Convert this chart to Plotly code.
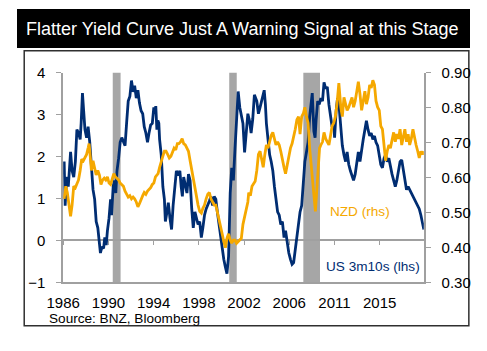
import plotly.graph_objects as go

# The usable page area is 471x335 (a larger figure gets shrunk); the chart is
# laid out in the reference's pixel coordinates inside that area.
W, H = 471, 335

# ---------------- data ----------------
us_years = [1986.24, 1986.33, 1986.44, 1986.53, 1986.62, 1986.83, 1986.97, 1987.12, 1987.27, 1987.41,
            1987.56, 1987.71, 1987.80, 1987.92, 1988.03, 1988.15, 1988.30, 1988.44, 1988.59, 1988.74,
            1988.89, 1989.04, 1989.18, 1989.33, 1989.48, 1989.57, 1989.71, 1989.86, 1989.97, 1990.10,
            1990.21, 1990.36, 1990.50, 1990.59, 1990.74, 1990.85, 1990.98, 1991.09, 1991.24, 1991.38,
            1991.53, 1991.68, 1991.83, 1991.97, 1992.12, 1992.27, 1992.42, 1992.57, 1992.71, 1992.86,
            1993.01, 1993.15, 1993.30, 1993.45, 1993.59, 1993.74, 1993.89, 1994.03, 1994.18, 1994.33,
            1994.47, 1994.56, 1994.65, 1994.75, 1994.84, 1994.93, 1995.00, 1995.15, 1995.30, 1995.44,
            1995.53, 1995.68, 1995.80, 1995.95, 1996.10, 1996.24, 1996.39, 1996.54, 1996.68, 1996.86,
            1996.98, 1997.09, 1997.21, 1997.36, 1997.51, 1997.65, 1997.80, 1997.95, 1998.09, 1998.24,
            1998.39, 1998.53, 1998.68, 1998.83, 1998.97, 1999.12, 1999.27, 1999.42, 1999.57, 1999.71,
            1999.86, 2000.01, 2000.16, 2000.30, 2000.45, 2000.60, 2000.74, 2000.89, 2001.04, 2001.18,
            2001.33, 2001.48, 2001.62, 2001.77, 2001.92, 2002.06, 2002.21, 2002.36, 2002.50, 2002.65,
            2002.80, 2002.95, 2003.10, 2003.25, 2003.40, 2003.55, 2003.70, 2003.92, 2004.07, 2004.22,
            2004.36, 2004.51, 2004.60, 2004.71, 2004.80, 2004.95, 2005.10, 2005.24, 2005.39, 2005.54,
            2005.68, 2005.83, 2005.98, 2006.12, 2006.27, 2006.42, 2006.56, 2006.71, 2006.86, 2007.01,
            2007.16, 2007.30, 2007.45, 2007.60, 2007.75, 2007.89, 2008.04, 2008.19, 2008.33, 2008.48,
            2008.63, 2008.77, 2008.92, 2009.01, 2009.16, 2009.27, 2009.36, 2009.51, 2009.65, 2009.80,
            2009.95, 2010.09, 2010.24, 2010.39, 2010.54, 2010.69, 2010.83, 2010.98, 2011.06, 2011.20,
            2011.33, 2011.48, 2011.63, 2011.77, 2011.92, 2012.07, 2012.21, 2012.36, 2012.51, 2012.66,
            2012.80, 2012.95, 2013.10, 2013.24, 2013.39, 2013.54, 2013.69, 2013.84, 2013.98, 2014.13,
            2014.28, 2014.42, 2014.57, 2014.72, 2014.86, 2015.01, 2015.16, 2015.30, 2015.45, 2015.60,
            2015.74, 2015.89, 2016.04, 2016.18, 2016.33, 2016.48, 2016.63, 2016.77, 2016.92, 2017.07,
            2017.22, 2017.36, 2017.51, 2017.66, 2017.81, 2017.95, 2018.10, 2018.25, 2018.39, 2018.54,
            2018.69, 2018.83, 2018.98, 2019.13, 2019.25]
us_3m10s = [1.88, 0.83, 1.36, 1.51, 1.28, 2.11, 1.66, 1.51, 1.88, 2.64,
            2.56, 2.41, 2.79, 3.51, 3.09, 2.64, 2.45, 2.71, 2.34, 1.66,
            1.21, 0.98, 0.45, 0.30, -0.08, -0.30, -0.15, -0.19, 0.07, -0.11,
            0.23, 0.53, 0.98, 0.60, 1.28, 1.43, 1.13, 1.66, 1.96, 2.34,
            2.45, 2.34, 2.26, 2.79, 3.32, 3.43, 3.81, 3.54, 3.69, 3.39,
            3.58, 3.28, 3.09, 3.02, 2.71, 2.56, 2.34, 2.56, 2.75, 2.79,
            3.17, 3.02, 3.20, 2.64, 2.86, 2.79, 2.41, 2.04, 1.28, 0.98,
            0.45, 0.68, 0.90, 0.53, 0.26, 0.83, 1.36, 1.66, 1.55, 1.66,
            1.28, 1.05, 1.51, 1.28, 1.13, 1.58, 1.43, 0.75, 0.30, 0.68,
            0.53, 0.38, 0.45, 0.07, 0.30, 0.60, 0.75, 0.83, 0.94, 1.05,
            0.83, 1.05, 0.98, 0.68, 0.38, 0.15, -0.23, -0.45, -0.64, -0.79,
            -0.38, 1.13, 1.73, 1.43, 2.19, 3.02, 3.55, 3.17, 2.94, 2.79,
            2.10, 2.64, 3.02, 2.85, 2.56, 2.90, 3.47, 3.32, 3.02, 3.17,
            3.32, 3.47, 3.58, 3.24, 2.79, 2.41, 2.04, 1.88, 1.66, 1.28,
            0.90, 0.68, 0.60, 0.38, 0.45, 0.07, 0.23, -0.08, -0.30, -0.45,
            -0.57, -0.53, -0.23, 0.00, 0.38, 0.68, 0.83, 1.36, 1.88, 2.11,
            2.34, 2.94, 3.40, 3.51, 2.60, 2.45, 2.86, 3.32, 3.24, 3.39,
            3.32, 3.77, 3.62, 3.66, 3.24, 2.94, 2.71, 2.79, 2.45, 3.09,
            3.39, 3.17, 2.64, 2.26, 2.04, 1.88, 2.11, 1.81, 1.66, 1.51,
            1.43, 1.58, 1.88, 2.11, 1.88, 2.19, 2.41, 2.64, 2.85, 2.64,
            2.49, 2.56, 2.41, 2.49, 2.34, 2.26, 2.04, 1.81, 1.73, 1.96,
            2.04, 1.88, 1.96, 1.73, 1.58, 1.43, 1.28, 1.43, 1.66, 1.88,
            1.92, 1.66, 1.36, 1.21, 1.28, 1.21, 1.13, 1.05, 0.98, 0.90,
            0.83, 0.75, 0.60, 0.38, 0.26]

nzd_years = [1986.24, 1986.39, 1986.53, 1986.68, 1986.83, 1986.97, 1987.12, 1987.27, 1987.41, 1987.56,
             1987.71, 1987.85, 1988.00, 1988.15, 1988.30, 1988.44, 1988.53, 1988.65, 1988.74, 1988.89,
             1989.04, 1989.18, 1989.33, 1989.48, 1989.62, 1989.77, 1989.92, 1990.06, 1990.21, 1990.36,
             1990.50, 1990.65, 1990.80, 1990.94, 1991.09, 1991.24, 1991.38, 1991.53, 1991.68, 1991.83,
             1991.97, 1992.12, 1992.27, 1992.42, 1992.57, 1992.71, 1992.86, 1993.01, 1993.15, 1993.30,
             1993.45, 1993.59, 1993.74, 1993.89, 1994.03, 1994.18, 1994.33, 1994.47, 1994.62, 1994.71,
             1994.86, 1995.00, 1995.15, 1995.30, 1995.44, 1995.59, 1995.74, 1995.89, 1996.04, 1996.19,
             1996.33, 1996.48, 1996.63, 1996.77, 1996.92, 1997.07, 1997.21, 1997.36, 1997.51, 1997.65,
             1997.80, 1997.95, 1998.09, 1998.24, 1998.39, 1998.53, 1998.68, 1998.83, 1998.97, 1999.12,
             1999.27, 1999.42, 1999.57, 1999.71, 1999.86, 2000.01, 2000.16, 2000.30, 2000.45, 2000.60,
             2000.74, 2000.89, 2001.04, 2001.18, 2001.33, 2001.48, 2001.62, 2001.77, 2001.92, 2002.06,
             2002.21, 2002.36, 2002.50, 2002.65, 2002.80, 2002.95, 2003.10, 2003.18, 2003.33, 2003.48,
             2003.62, 2003.77, 2003.92, 2004.07, 2004.22, 2004.36, 2004.51, 2004.66, 2004.80, 2004.95,
             2005.10, 2005.24, 2005.39, 2005.54, 2005.68, 2005.83, 2005.98, 2006.12, 2006.27, 2006.42,
             2006.56, 2006.71, 2006.86, 2007.01, 2007.16, 2007.30, 2007.45, 2007.60, 2007.75, 2007.89,
             2008.04, 2008.19, 2008.33, 2008.48, 2008.63, 2008.77, 2008.92, 2009.07, 2009.21, 2009.30,
             2009.45, 2009.56, 2009.68, 2009.80, 2009.95, 2010.09, 2010.24, 2010.39, 2010.54, 2010.69,
             2010.83, 2010.98, 2011.13, 2011.28, 2011.45, 2011.63, 2011.77, 2011.92, 2012.07, 2012.21,
             2012.36, 2012.51, 2012.66, 2012.80, 2012.95, 2013.10, 2013.24, 2013.39, 2013.54, 2013.69,
             2013.84, 2013.98, 2014.13, 2014.28, 2014.42, 2014.57, 2014.72, 2014.86, 2015.01, 2015.16,
             2015.30, 2015.45, 2015.60, 2015.74, 2015.89, 2016.04, 2016.18, 2016.33, 2016.48, 2016.63,
             2016.77, 2016.92, 2017.07, 2017.22, 2017.36, 2017.51, 2017.66, 2017.81, 2017.95, 2018.10,
             2018.25, 2018.39, 2018.54, 2018.69, 2018.83, 2018.98, 2019.13, 2019.25]
nzd_usd = [0.539, 0.575, 0.557, 0.521, 0.489, 0.521, 0.575, 0.571, 0.584, 0.593,
           0.620, 0.652, 0.648, 0.656, 0.666, 0.684, 0.697, 0.656, 0.620, 0.648,
           0.629, 0.607, 0.620, 0.607, 0.580, 0.593, 0.598, 0.593, 0.602, 0.584,
           0.580, 0.598, 0.611, 0.602, 0.598, 0.593, 0.584, 0.580, 0.575, 0.561,
           0.552, 0.544, 0.548, 0.539, 0.544, 0.539, 0.530, 0.516, 0.525, 0.539,
           0.548, 0.557, 0.552, 0.561, 0.566, 0.571, 0.580, 0.584, 0.602, 0.607,
           0.611, 0.629, 0.648, 0.661, 0.675, 0.675, 0.666, 0.656, 0.661, 0.675,
           0.684, 0.679, 0.697, 0.697, 0.702, 0.711, 0.697, 0.693, 0.684, 0.675,
           0.648, 0.620, 0.593, 0.566, 0.548, 0.521, 0.503, 0.498, 0.512, 0.521,
           0.539, 0.552, 0.557, 0.539, 0.530, 0.521, 0.521, 0.503, 0.485, 0.462,
           0.439, 0.417, 0.399, 0.426, 0.439, 0.421, 0.412, 0.421, 0.421, 0.412,
           0.417, 0.421, 0.426, 0.466, 0.485, 0.503, 0.530, 0.557, 0.548, 0.575,
           0.584, 0.589, 0.620, 0.666, 0.675, 0.648, 0.629, 0.666, 0.693, 0.684,
           0.702, 0.720, 0.729, 0.711, 0.693, 0.702, 0.693, 0.675, 0.648, 0.629,
           0.611, 0.639, 0.666, 0.684, 0.697, 0.715, 0.738, 0.765, 0.774, 0.724,
           0.774, 0.783, 0.801, 0.774, 0.756, 0.684, 0.629, 0.566, 0.521, 0.503,
           0.575, 0.648, 0.684, 0.693, 0.702, 0.729, 0.711, 0.702, 0.693, 0.720,
           0.747, 0.756, 0.774, 0.810, 0.870, 0.801, 0.774, 0.829, 0.810, 0.792,
           0.801, 0.819, 0.829, 0.801, 0.819, 0.847, 0.874, 0.838, 0.792, 0.819,
           0.847, 0.810, 0.829, 0.865, 0.856, 0.878, 0.865, 0.819, 0.801, 0.792,
           0.747, 0.738, 0.684, 0.648, 0.675, 0.693, 0.684, 0.711, 0.729, 0.702,
           0.724, 0.711, 0.738, 0.693, 0.720, 0.738, 0.702, 0.724, 0.693, 0.711,
           0.738, 0.711, 0.693, 0.675, 0.656, 0.675, 0.666, 0.675]

# US recession periods (shaded), in the chart's time coordinate
recession_start = [1990.70, 2001.39, 2008.19]
recession_end = [1991.42, 2002.08, 2009.72]

# x-axis tick positions and labels
tick_pos = [1986.15, 1990.30, 1994.45, 1998.60, 2002.75, 2006.90, 2011.05, 2015.20]
tick_text = ["1986", "1990", "1994", "1998", "2002", "2006", "2011", "2015"]

x_range = [1986.15, 2019.25]
lhs_range = [-1, 4]
rhs_range = [0.3, 0.9]

title_text = "Flatter Yield Curve Just A Warning Signal at this Stage"
source_text = "Source: BNZ, Bloomberg"

# ---------------- styling ----------------
NAVY = "#002D72"
ORANGE = "#F5A800"
BAND = "#A6A6A6"
AXIS = "#A0A0A0"
FONT = "Liberation Sans, Arial, sans-serif"


def px(x):
    """pixel x -> figure paper coordinate"""
    return x / W


def py(y):
    """pixel y -> figure paper coordinate"""
    return 1 - y / H


plot_l, plot_r, plot_t, plot_b = 48, 423, 67, 288
ydom = [py(plot_b), py(plot_t)]
zero_pos = ydom[0] + (0 - lhs_range[0]) / (lhs_range[1] - lhs_range[0]) * (ydom[1] - ydom[0])

fig = go.Figure()

fig.add_trace(go.Scatter(x=us_years, y=us_3m10s, mode="lines",
                         line=dict(color=NAVY, width=2.8), xaxis="x", yaxis="y",
                         showlegend=False, hoverinfo="skip"))
fig.add_trace(go.Scatter(x=nzd_years, y=nzd_usd, mode="lines",
                         line=dict(color=ORANGE, width=2.8), xaxis="x", yaxis="y2",
                         showlegend=False, hoverinfo="skip"))
# invisible trace so the tick-mark axis at zero is drawn
fig.add_trace(go.Scatter(x=tick_pos, y=[0] * len(tick_pos), mode="markers",
                         marker=dict(opacity=0), xaxis="x2", yaxis="y",
                         showlegend=False, hoverinfo="skip"))

shapes = []
for s, e in zip(recession_start, recession_end):
    shapes.append(dict(type="rect", xref="x", yref="y", x0=s, x1=e,
                       y0=lhs_range[0], y1=lhs_range[1], fillcolor=BAND,
                       line=dict(width=0), layer="below"))
# title bar
shapes.append(dict(type="rect", xref="paper", yref="paper", x0=0, x1=1,
                   y0=py(41), y1=1, fillcolor="black", line=dict(width=0), layer="below"))
# chart frame
shapes.append(dict(type="rect", xref="paper", yref="paper", x0=px(7.5), x1=px(W - 1.2),
                   y0=py(H - 1.2), y1=py(44), fillcolor="rgba(0,0,0,0)",
                   line=dict(color="#303030", width=1.5), layer="below"))

annotations = [
    dict(text=title_text, xref="paper", yref="paper", x=px(7), y=py(21),
         xanchor="left", yanchor="middle", showarrow=False,
         font=dict(family=FONT, size=18, color="white")),
    dict(text=source_text, xref="paper", yref="paper", x=px(31), y=py(326.5),
         xanchor="left", yanchor="middle", showarrow=False,
         font=dict(family=FONT, size=13.6, color="black")),
    dict(text="NZD (rhs)", xref="paper", yref="paper", x=px(357), y=py(213),
         xanchor="center", yanchor="middle", showarrow=False,
         font=dict(family=FONT, size=13.6, color=ORANGE)),
    dict(text="US 3m10s (lhs)", xref="paper", yref="paper", x=px(370), y=py(271),
         xanchor="center", yanchor="middle", showarrow=False,
         font=dict(family=FONT, size=13.6, color=NAVY)),
]

tickfont = dict(family=FONT, size=15, color="black")

fig.update_layout(
    width=W, height=H, autosize=False,
    margin=dict(l=0, r=0, t=0, b=0, pad=0),
    paper_bgcolor="white", plot_bgcolor="white",
    showlegend=False,
    shapes=shapes, annotations=annotations,
    xaxis=dict(domain=[px(plot_l), px(plot_r)], range=x_range, anchor="y",
               tickmode="array", tickvals=tick_pos, ticktext=tick_text,
               ticks="", showline=True, linecolor=AXIS, linewidth=1.5,
               showgrid=False, zeroline=False, tickfont=tickfont,
               ticklabelstandoff=6),
    xaxis2=dict(domain=[px(plot_l), px(plot_r)], range=x_range, overlaying="x",
                anchor="free", position=zero_pos, side="bottom",
                tickmode="array", tickvals=tick_pos, ticks="outside", ticklen=4,
                tickwidth=1.2, tickcolor=AXIS, showticklabels=False,
                showline=False, showgrid=False, zeroline=False),
    yaxis=dict(domain=ydom, range=lhs_range, anchor="x", dtick=1, tick0=0,
               ticks="outside", ticklen=5, tickcolor=AXIS, tickwidth=1.2,
               showline=True, linecolor=AXIS, linewidth=1.5,
               showgrid=False, zeroline=True, zerolinecolor=AXIS, zerolinewidth=1.5,
               tickfont=tickfont, ticklabelstandoff=8),
    yaxis2=dict(domain=ydom, range=rhs_range, anchor="x", overlaying="y", side="right",
                dtick=0.1, tick0=0.3, tickformat=".2f",
                ticks="outside", ticklen=5, tickcolor=AXIS, tickwidth=1.2,
                showline=True, linecolor=AXIS, linewidth=1.5,
                showgrid=False, zeroline=False, tickfont=tickfont, ticklabelstandoff=8),
)

fig.write_html("out.html")
